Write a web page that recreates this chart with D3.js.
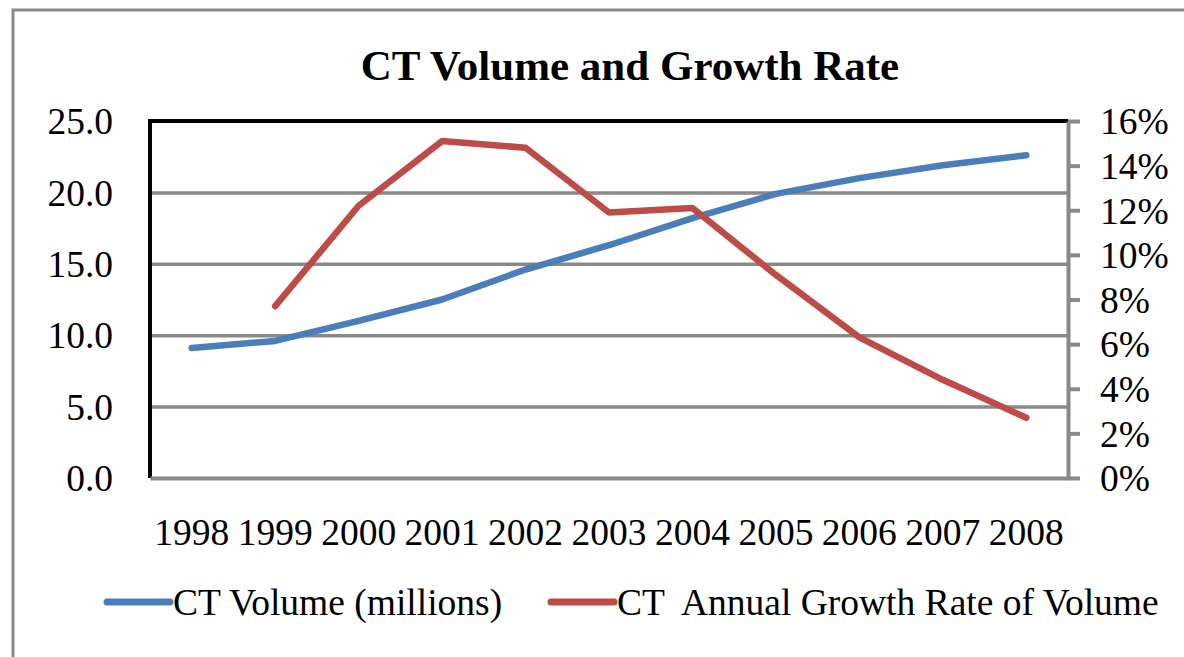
<!DOCTYPE html>
<html>
<head>
<meta charset="utf-8">
<script src="https://cdn.jsdelivr.net/npm/d3@7"></script>
<style>
    body { margin: 0; background: #fff; }
    text { font-family: "Liberation Serif", "Times New Roman", serif; fill: #000; }
</style>
</head>
<body>
<div class="canvas"></div>
<script>
//=================== Data ===================//
const years = ['1998', '1999', '2000', '2001', '2002', '2003', '2004', '2005', '2006', '2007', '2008'];
const volume = [9.1, 9.6, 11.0, 12.5, 14.6, 16.3, 18.2, 19.9, 21.0, 21.9, 22.6];
const growth = [null, 7.7, 12.2, 15.1, 14.8, 11.9, 12.1, 9.1, 6.3, 4.4, 2.7];
const leftTicks = [0, 5, 10, 15, 20, 25];
const rightTicks = [0, 2, 4, 6, 8, 10, 12, 14, 16];
const seriesNames = ['CT Volume (millions)', 'CT  Annual Growth Rate of Volume'];
const seriesColors = ['#4a7ebb', '#be4b48'];

//=================== Set up ===================//
const svg = d3.select('.canvas')
    .append('svg')
    .attr('width', 1184)
    .attr('height', 657);

// outer chart border
svg.append('rect')
    .attr('x', 13)
    .attr('y', 10)
    .attr('width', 1200)
    .attr('height', 700)
    .attr('fill', 'none')
    .attr('stroke', '#898989')
    .attr('stroke-width', 3);

svg.append('text')
    .attr('x', 630)
    .attr('y', 80)
    .attr('text-anchor', 'middle')
    .attr('font-size', 43)
    .attr('font-weight', 'bold')
    .text('CT Volume and Growth Rate');

const margin = { top: 121, left: 150 };
const graphWidth = 1068 - 150;
const graphHeight = 478 - 121;
const fontSize = 37.5;

const graph = svg.append('g')
    .attr('transform', `translate(${margin.left},${margin.top})`);

const x = d3.scaleBand()
    .domain(years)
    .range([0, graphWidth]);

const y = d3.scaleLinear()
    .domain([0, 25])
    .range([graphHeight, 0]);

const y2 = d3.scaleLinear()
    .domain([0, 16])
    .range([graphHeight, 0]);

// gridlines
const grid = graph.append('g')
    .call(d3.axisLeft(y).tickValues(leftTicks.slice(1, -1)).tickSize(-graphWidth).tickFormat(''));
grid.select('.domain').remove();
grid.selectAll('line').attr('stroke', '#898989').attr('stroke-width', 3.5);

// plot frame (top + left in black)
graph.append('path')
    .attr('d', `M0,${graphHeight} V0 H${graphWidth}`)
    .attr('fill', 'none')
    .attr('stroke', '#000')
    .attr('stroke-width', 4);

// left axis labels
const yAxisGroup = graph.append('g')
    .call(d3.axisLeft(y).tickValues(leftTicks).tickSize(0).tickPadding(37).tickFormat(d3.format('.1f')));
yAxisGroup.select('.domain').remove();
yAxisGroup.selectAll('text')
    .attr('font-family', '"Liberation Serif", serif')
    .attr('font-size', fontSize)
    .attr('dy', '0.34em');

// bottom axis
const xAxisGroup = graph.append('g')
    .attr('transform', `translate(0,${graphHeight})`)
    .call(d3.axisBottom(x).tickSize(0).tickPadding(40));
xAxisGroup.select('.domain')
    .attr('stroke', '#898989')
    .attr('stroke-width', 4);
xAxisGroup.selectAll('text')
    .attr('font-family', '"Liberation Serif", serif')
    .attr('font-size', fontSize)
    .attr('dy', '0.71em');

// right axis
const y2AxisGroup = graph.append('g')
    .attr('transform', `translate(${graphWidth},0)`)
    .call(d3.axisRight(y2).tickValues(rightTicks).tickSize(12).tickSizeOuter(0).tickPadding(20).tickFormat(d => d + '%'));
y2AxisGroup.select('.domain')
    .attr('stroke', '#898989')
    .attr('stroke-width', 4);
y2AxisGroup.selectAll('line')
    .attr('stroke', '#898989')
    .attr('stroke-width', 4);
y2AxisGroup.selectAll('text')
    .attr('font-family', '"Liberation Serif", serif')
    .attr('font-size', fontSize)
    .attr('dy', '0.34em');

// lines
const cx = d => x(d) + x.bandwidth() / 2;

const volumeLine = d3.line()
    .x((d, i) => cx(years[i]))
    .y(d => y(d));

const growthLine = d3.line()
    .defined(d => d !== null)
    .x((d, i) => cx(years[i]))
    .y(d => y2(d));

graph.append('path')
    .attr('d', volumeLine(volume))
    .attr('fill', 'none')
    .attr('stroke', seriesColors[0])
    .attr('stroke-width', 6.5)
    .attr('stroke-linejoin', 'round')
    .attr('stroke-linecap', 'round');

graph.append('path')
    .attr('d', growthLine(growth))
    .attr('fill', 'none')
    .attr('stroke', seriesColors[1])
    .attr('stroke-width', 6.5)
    .attr('stroke-linejoin', 'round')
    .attr('stroke-linecap', 'round');

// legend
const legendX = [107, 551];
const legend = svg.append('g');
seriesNames.forEach((name, i) => {
    legend.append('line')
        .attr('x1', legendX[i])
        .attr('x2', legendX[i] + 63)
        .attr('y1', 602)
        .attr('y2', 602)
        .attr('stroke', seriesColors[i])
        .attr('stroke-width', 7)
        .attr('stroke-linecap', 'round');
    legend.append('text')
        .attr('x', legendX[i] + 66)
        .attr('y', 615)
        .attr('font-size', fontSize)
        .style('white-space', 'pre')
        .text(name);
});
</script>
</body>
</html>
